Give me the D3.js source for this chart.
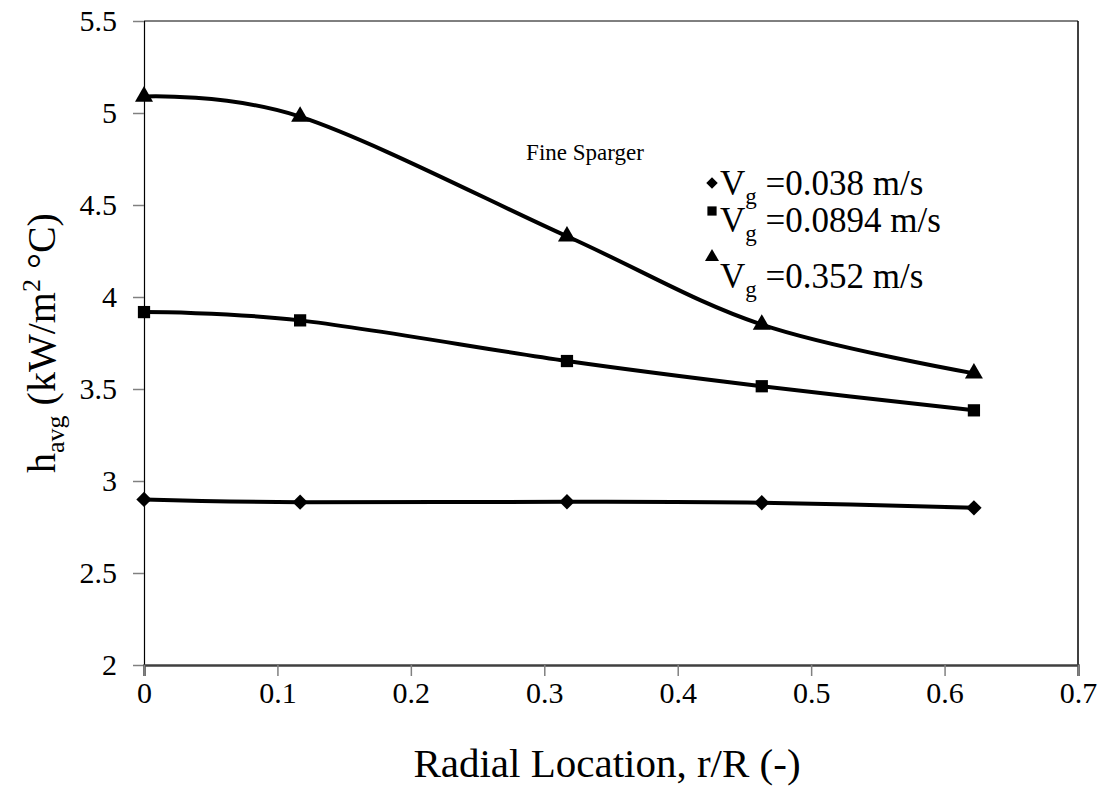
<!DOCTYPE html>
<html>
<head>
<meta charset="utf-8">
<script src="https://cdn.jsdelivr.net/npm/d3@7"></script>
<style>
  html, body { margin: 0; padding: 0; background: #fff; }
</style>
</head>
<body>
<svg id="chart" width="1104" height="791" font-family="'Liberation Serif', 'Times New Roman', serif"></svg>
<script>
// ---- data ----
const radialLocation = [0, 0.117, 0.317, 0.463, 0.622];
const hLow  = [2.900, 2.885, 2.887, 2.882, 2.854];   // Vg = 0.038 m/s
const hMid  = [3.918, 3.873, 3.652, 3.515, 3.384];   // Vg = 0.0894 m/s
const hHigh = [5.090, 4.980, 4.330, 3.850, 3.585];   // Vg = 0.352 m/s
const seriesNames = ["0.038 m/s", "0.0894 m/s", "0.352 m/s"];
const xTicks = [0, 0.1, 0.2, 0.3, 0.4, 0.5, 0.6, 0.7];
const yTicks = [2, 2.5, 3, 3.5, 4, 4.5, 5, 5.5];

const FONT = "'Liberation Serif', 'Times New Roman', serif";

const series = [
  { name: seriesNames[0], values: hLow,  symbol: d3.symbolDiamond2, size: 150 },
  { name: seriesNames[1], values: hMid,  symbol: d3.symbolSquare,   size: 150 },
  { name: seriesNames[2], values: hHigh, symbol: d3.symbolTriangle, size: 140 }
];

const svg = d3.select("#chart");
const pLeft = 144, pRight = 1078, pTop = 21, pBottom = 665;

const x = d3.scaleLinear().domain([0, 0.7]).range([pLeft, pRight]);
const y = d3.scaleLinear().domain([2, 5.5]).range([pBottom, pTop]);

// plot border (top & right)
svg.append("line").attr("x1", pLeft).attr("x2", pRight).attr("y1", pTop).attr("y2", pTop)
  .attr("stroke", "#000").attr("stroke-width", 1);
svg.append("line").attr("x1", pRight).attr("x2", pRight).attr("y1", pTop).attr("y2", pBottom)
  .attr("stroke", "#000").attr("stroke-width", 1.5);

// y axis
const yAxis = d3.axisLeft(y).tickValues(yTicks).tickSize(11).tickPadding(16)
  .tickFormat(d => d3.format("")(d));
const gy = svg.append("g").attr("transform", `translate(${pLeft},0)`).call(yAxis)
  .attr("font-family", FONT).attr("font-size", 30);
gy.select(".domain").attr("stroke", "#000").attr("stroke-width", 1.2);
gy.selectAll(".tick line").attr("stroke", "#808080").attr("stroke-width", 1.5);
gy.selectAll(".tick text").attr("dy", "0.33em").attr("fill", "#000");

// x axis
const xAxis = d3.axisBottom(x).tickValues(xTicks).tickSize(11).tickPadding(6)
  .tickFormat(d => d3.format("")(d));
const gx = svg.append("g").attr("transform", `translate(0,${pBottom})`).call(xAxis)
  .attr("font-family", FONT).attr("font-size", 30);
gx.select(".domain").attr("stroke", "#404040").attr("stroke-width", 2.5);
gx.selectAll(".tick line").attr("stroke", "#808080").attr("stroke-width", 1.5);
gx.selectAll(".tick text").attr("fill", "#000");

// lines
const line = d3.line()
  .x((d, i) => x(radialLocation[i]))
  .y(d => y(d))
  .curve(d3.curveCardinal.tension(0));

series.forEach(s => {
  svg.append("path").datum(s.values)
    .attr("d", line)
    .attr("fill", "none")
    .attr("stroke", "#000")
    .attr("stroke-width", 4);
});

// markers
series.forEach(s => {
  svg.append("g").selectAll("path").data(s.values).join("path")
    .attr("d", d3.symbol().type(s.symbol).size(s.size))
    .attr("transform", (d, i) => `translate(${x(radialLocation[i])},${y(d)})`)
    .attr("fill", "#000");
});

// annotation
svg.append("text").attr("x", 585).attr("y", 160).attr("text-anchor", "middle")
  .attr("font-family", FONT).attr("font-size", 23).text("Fine Sparger");

// legend
const legendRows = [195, 232, 288];
const legendMarkY = [183, 211, 257];
seriesNames.forEach((name, i) => {
  const by = legendRows[i];
  svg.append("path")
    .attr("d", d3.symbol().type(series[i].symbol).size(85))
    .attr("transform", `translate(712,${legendMarkY[i]})`)
    .attr("fill", "#000");
  const t = svg.append("text").attr("x", 720).attr("y", by)
    .attr("font-family", FONT).attr("font-size", 35);
  t.append("tspan").text("V");
  t.append("tspan").attr("font-size", 23).attr("dy", 9).text("g");
  t.append("tspan").attr("dy", -9).text(" =" + name);
});

// axis titles
svg.append("text").attr("x", (pLeft + pRight) / 2 - 4).attr("y", 777).attr("text-anchor", "middle")
  .attr("font-family", FONT).attr("font-size", 41).text("Radial Location, r/R (-)");

const yt = svg.append("text")
  .attr("transform", `translate(55,${(pTop + pBottom) / 2}) rotate(-90)`)
  .attr("text-anchor", "middle").attr("font-family", FONT).attr("font-size", 40);
yt.append("tspan").text("h");
yt.append("tspan").attr("font-size", 26).attr("dy", 9).text("avg");
yt.append("tspan").attr("dy", -9).text(" (kW/m");
yt.append("tspan").attr("font-size", 26).attr("dy", -15).text("2");
yt.append("tspan").attr("dy", 15).text(" °C)");
</script>
</body>
</html>
